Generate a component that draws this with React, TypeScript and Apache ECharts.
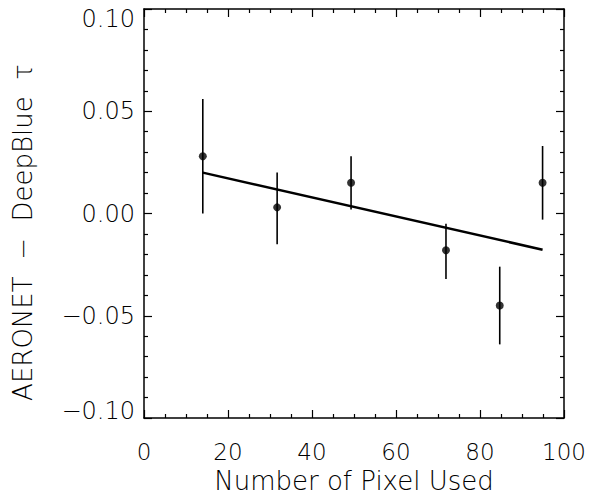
import React, { useEffect, useRef } from "react";
import * as echarts from "echarts";

const pixelCounts = [14.0, 31.7, 49.3, 71.9, 84.7, 94.9];
const meanDiff = [0.028, 0.003, 0.015, -0.018, -0.045, 0.015];
const errLow = [0.0, -0.015, 0.002, -0.032, -0.064, -0.003];
const errHigh = [0.056, 0.020, 0.028, -0.005, -0.026, 0.033];
const fitX = [14.0, 94.9];
const fitY = [0.020, -0.0177];

const FONT = "DejaVu Sans";

export default function App() {
  const ref = useRef<HTMLDivElement>(null);
  useEffect(() => {
    if (!ref.current) return;
    const chart = echarts.init(ref.current, null, { renderer: "svg" });
    const axisCommon = {
      axisLine: { show: true, onZero: false, lineStyle: { color: "#000", width: 1.5 } },
      axisTick: { show: true, inside: true, length: 8, lineStyle: { color: "#000", width: 1.2 } },
      minorTick: { show: true, length: 4, lineStyle: { color: "#000", width: 1.2 } },
      splitLine: { show: false },
    };
    chart.setOption({
      animation: false,
      backgroundColor: "#fff",
      grid: { left: 144, right: 30, top: 9, bottom: 86 },
      xAxis: [
        {
          type: "value",
          min: 0,
          max: 100,
          interval: 20,
          ...axisCommon,
          minorTick: { ...axisCommon.minorTick, splitNumber: 4 },
          axisLabel: { color: "#000", fontFamily: FONT, fontSize: 23, fontWeight: 200, margin: 22 },
          name: "Number of Pixel Used",
          nameLocation: "middle",
          nameGap: 49,
          nameTextStyle: { color: "#000", fontFamily: FONT, fontSize: 26, fontWeight: 200 },
        },
        {
          type: "value",
          position: "top",
          min: 0,
          max: 100,
          interval: 20,
          ...axisCommon,
          minorTick: { ...axisCommon.minorTick, splitNumber: 4 },
          axisLabel: { show: false },
        },
      ],
      yAxis: [
        {
          type: "value",
          min: -0.1,
          max: 0.1,
          interval: 0.05,
          ...axisCommon,
          minorTick: { ...axisCommon.minorTick, splitNumber: 5 },
          axisLabel: {
            color: "#000",
            fontFamily: FONT,
            fontSize: 24,
            fontWeight: 200,
            margin: 9,
            formatter: (v: number) => {
              const s = (v < 0 ? "\u2212" : "") + Math.abs(v).toFixed(2);
              if (Math.abs(v - 0.1) < 1e-9) return "{t|" + s + "}";
              if (Math.abs(v + 0.1) < 1e-9) return "{b|" + s + "}";
              return s;
            },
            rich: {
              t: { fontFamily: FONT, fontSize: 24, fontWeight: 200, color: "#000", padding: [20, 0, 0, 0] },
              b: { fontFamily: FONT, fontSize: 24, fontWeight: 200, color: "#000", padding: [0, 0, 14, 0] },
            },
          },
          name: "AERONET  \u2212  DeepBlue  \u03C4",
          nameLocation: "middle",
          nameGap: 108,
          nameTextStyle: {
            color: "#000",
            fontFamily: FONT,
            fontSize: 26,
            fontWeight: 200,
            padding: [0, 38, 0, 0],
          },
        },
        {
          type: "value",
          position: "right",
          min: -0.1,
          max: 0.1,
          interval: 0.05,
          ...axisCommon,
          minorTick: { ...axisCommon.minorTick, splitNumber: 5 },
          axisLabel: { show: false },
        },
      ],
      series: [
        {
          type: "custom",
          xAxisIndex: 0,
          yAxisIndex: 0,
          data: pixelCounts.map((x, i) => [x, errLow[i], errHigh[i]]),
          renderItem: (params: any, api: any) => {
            const p1 = api.coord([api.value(0), api.value(1)]);
            const p2 = api.coord([api.value(0), api.value(2)]);
            return {
              type: "line",
              shape: { x1: p1[0], y1: p1[1], x2: p2[0], y2: p2[1] },
              style: { stroke: "#000", lineWidth: 1.6 },
            };
          },
          z: 2,
        },
        {
          type: "line",
          data: fitX.map((x, i) => [x, fitY[i]]),
          showSymbol: false,
          lineStyle: { color: "#000", width: 2.5 },
          z: 3,
        },
        {
          type: "scatter",
          data: pixelCounts.map((x, i) => [x, meanDiff[i]]),
          symbol: "circle",
          symbolSize: 8,
          itemStyle: { color: "#000" },
          z: 4,
        },
      ],
    });
    return () => chart.dispose();
  }, []);
  return <div ref={ref} style={{ width: 594, height: 504, position: "absolute", left: 0, top: 0 }} />;
}
